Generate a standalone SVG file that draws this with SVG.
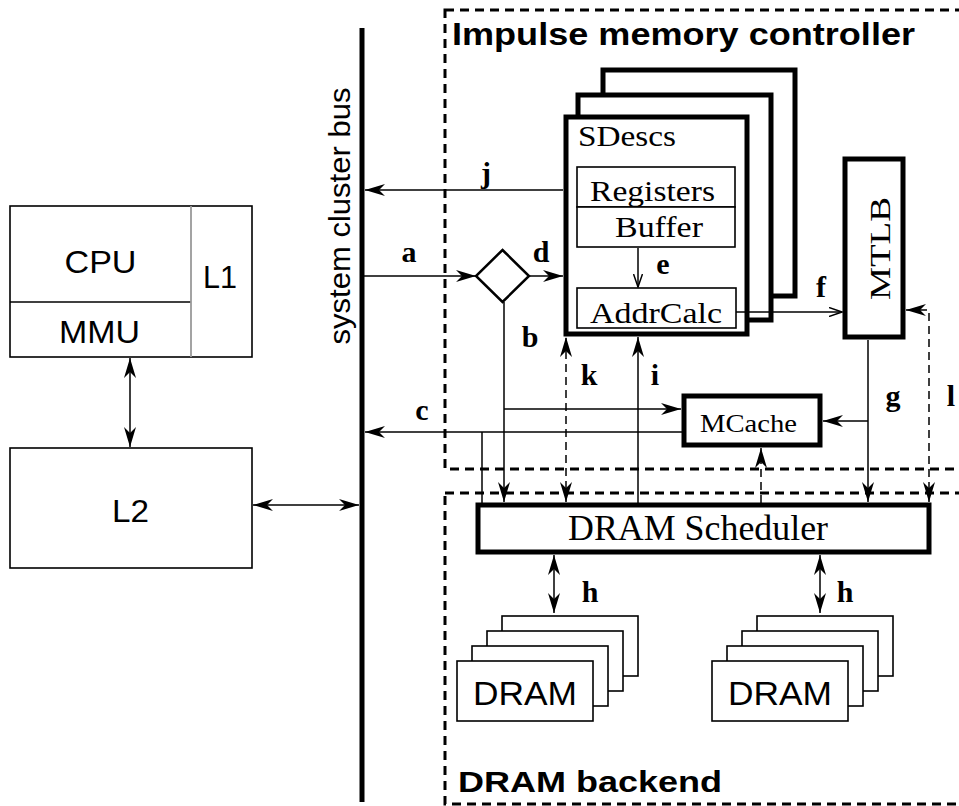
<svg xmlns="http://www.w3.org/2000/svg" width="959" height="806" viewBox="0 0 959 806">
<style>
.sans{font-family:"Liberation Sans",Arial,sans-serif;fill:#000}
.serif{font-family:"Liberation Serif","Times New Roman",serif;fill:#000}
.bs{font-family:"Liberation Sans",Arial,sans-serif;font-weight:bold;fill:#000}
.lbl{font-family:"Liberation Serif","Times New Roman",serif;font-weight:bold;font-size:30px;fill:#000;text-anchor:middle}
.thin{fill:#fff;stroke:#000;stroke-width:1.6}
.thick{fill:#fff;stroke:#000;stroke-width:5}
.ln{fill:none;stroke:#000;stroke-width:1.5}
.dl{fill:none;stroke:#000;stroke-width:1.5;stroke-dasharray:8 5}
.region{fill:none;stroke:#000;stroke-width:3;stroke-dasharray:9 6}
</style>
<defs>
<marker id="ah" viewBox="0 0 20 12" refX="20" refY="6" markerWidth="20" markerHeight="12" markerUnits="userSpaceOnUse" orient="auto-start-reverse">
<path d="M0,0 L20,6 L0,12 L6,6 z" fill="#000"/>
</marker>
<marker id="oa" viewBox="0 0 14 10" refX="13" refY="5" markerWidth="14" markerHeight="10" markerUnits="userSpaceOnUse" orient="auto">
<path d="M0,0.5 L13,5 L0,9.5" fill="none" stroke="#000" stroke-width="1.5"/>
</marker>
</defs>
<rect width="959" height="806" fill="#fff"/>

<g id="regions">
<rect class="region" x="445" y="10" width="520" height="459"/>
<rect class="region" x="445" y="493" width="520" height="311"/>
<text class="bs" x="452" y="45" font-size="32" textLength="463" lengthAdjust="spacingAndGlyphs">Impulse memory controller</text>
<text class="bs" x="458" y="792" font-size="30" textLength="264" lengthAdjust="spacingAndGlyphs">DRAM backend</text>
</g>

<g id="bus">
<line x1="362" y1="28" x2="362" y2="802" stroke="#000" stroke-width="5"/>
<text class="sans" transform="translate(350,216) rotate(-90)" text-anchor="middle" font-size="30" textLength="257" lengthAdjust="spacingAndGlyphs">system cluster bus</text>
</g>

<g id="cpu">
<rect class="thin" x="10" y="206" width="242" height="151"/>
<line x1="10" y1="302" x2="191" y2="302" stroke="#000" stroke-width="1.6"/>
<line x1="191" y1="206" x2="191" y2="357" stroke="#999" stroke-width="1.8"/>
<text class="sans" x="100.5" y="273" font-size="32" text-anchor="middle" textLength="72" lengthAdjust="spacingAndGlyphs">CPU</text>
<text class="sans" x="99.5" y="343" font-size="32" text-anchor="middle" textLength="81" lengthAdjust="spacingAndGlyphs">MMU</text>
<text class="sans" x="220" y="288" font-size="32" text-anchor="middle" textLength="34" lengthAdjust="spacingAndGlyphs">L1</text>
</g>

<g id="l2">
<rect class="thin" x="10" y="448" width="242" height="120"/>
<text class="sans" x="130.5" y="522" font-size="32" text-anchor="middle" textLength="37" lengthAdjust="spacingAndGlyphs">L2</text>
</g>

<g id="sdescs">
<rect class="thick" x="603" y="70" width="192" height="226"/>
<rect class="thick" x="578" y="95" width="193" height="225"/>
<rect class="thick" x="566" y="117" width="181" height="217"/>
<text class="serif" x="578" y="146" font-size="30" textLength="98" lengthAdjust="spacingAndGlyphs">SDescs</text>
<rect class="thin" x="577" y="167" width="158" height="40"/>
<rect class="thin" x="577" y="207" width="158" height="40"/>
<text class="serif" x="590" y="201" font-size="30" textLength="125" lengthAdjust="spacingAndGlyphs">Registers</text>
<text class="serif" x="615" y="237" font-size="30" textLength="88" lengthAdjust="spacingAndGlyphs">Buffer</text>
<rect class="thin" x="577" y="288" width="159" height="40"/>
<text class="serif" x="590" y="323" font-size="30" textLength="132" lengthAdjust="spacingAndGlyphs">AddrCalc</text>
</g>

<g id="switch">
<path d="M502.5,250 L529,276 L502.5,302 L476,276 Z" fill="#fff" stroke="#000" stroke-width="2.5"/>
</g>

<g id="mtlb">
<rect class="thick" x="845" y="159" width="58" height="178"/>
<text class="serif" transform="translate(890,248.5) rotate(-90)" text-anchor="middle" font-size="30" textLength="103" lengthAdjust="spacingAndGlyphs">MTLB</text>
</g>

<g id="mcache">
<rect class="thick" x="684" y="396" width="136" height="49" stroke-width="4.5"/>
<text class="serif" x="700" y="432" font-size="25" textLength="97" lengthAdjust="spacingAndGlyphs">MCache</text>
</g>

<g id="scheduler">
<rect class="thick" x="478" y="505" width="451" height="47"/>
<text class="serif" x="568" y="540" font-size="35" textLength="260" lengthAdjust="spacingAndGlyphs">DRAM Scheduler</text>
</g>

<g id="dram1">
<rect class="thin" x="502" y="616" width="136" height="60"/>
<rect class="thin" x="487" y="631" width="136" height="60"/>
<rect class="thin" x="472" y="646" width="136" height="60"/>
<rect class="thin" x="457" y="661" width="136" height="60"/>
<text class="sans" x="525" y="705" font-size="34" text-anchor="middle" textLength="104" lengthAdjust="spacingAndGlyphs">DRAM</text>
</g>

<g id="dram2">
<rect class="thin" x="757" y="616" width="136" height="60"/>
<rect class="thin" x="742" y="631" width="136" height="60"/>
<rect class="thin" x="727" y="646" width="136" height="60"/>
<rect class="thin" x="712" y="661" width="136" height="60"/>
<text class="sans" x="780" y="705" font-size="34" text-anchor="middle" textLength="104" lengthAdjust="spacingAndGlyphs">DRAM</text>
</g>

<g id="connectors">
<line class="ln" x1="130" y1="358" x2="130" y2="447" marker-start="url(#ah)" marker-end="url(#ah)"/>
<line class="ln" x1="253" y1="505" x2="359" y2="505" marker-start="url(#ah)" marker-end="url(#ah)"/>
<line class="ln" x1="563" y1="190" x2="365" y2="190" marker-end="url(#ah)"/>
<line class="ln" x1="364" y1="276" x2="476" y2="276" marker-end="url(#ah)"/>
<line class="ln" x1="529" y1="276" x2="563" y2="276" marker-end="url(#ah)"/>
<line class="ln" x1="504" y1="302" x2="504" y2="502" marker-end="url(#ah)"/>
<line class="ln" x1="504" y1="409" x2="681" y2="409" marker-end="url(#ah)"/>
<line class="ln" x1="682" y1="432" x2="365" y2="432" marker-end="url(#ah)"/>
<line class="ln" x1="482" y1="432" x2="482" y2="503"/>
<line class="dl" x1="566" y1="502" x2="566" y2="337" marker-start="url(#ah)" marker-end="url(#ah)"/>
<line class="ln" x1="638" y1="503" x2="638" y2="337" marker-end="url(#ah)"/>
<line class="dl" x1="761" y1="503" x2="761" y2="448" marker-end="url(#ah)"/>
<line class="ln" x1="868" y1="340" x2="868" y2="502" marker-end="url(#ah)"/>
<line class="ln" x1="868" y1="421" x2="823" y2="421" marker-end="url(#ah)"/>
<path class="dl" d="M906,310 L929,310 L929,502" marker-start="url(#ah)" marker-end="url(#ah)"/>
<line class="ln" x1="638" y1="248" x2="638" y2="287" marker-end="url(#oa)"/>
<line class="ln" x1="736" y1="312" x2="842" y2="312" marker-end="url(#oa)"/>
<line class="ln" x1="554" y1="555" x2="554" y2="613" marker-start="url(#ah)" marker-end="url(#ah)"/>
<line class="ln" x1="820" y1="555" x2="820" y2="613" marker-start="url(#ah)" marker-end="url(#ah)"/>
<text class="lbl" x="486" y="183">j</text>
<text class="lbl" x="409" y="262">a</text>
<text class="lbl" x="541" y="262">d</text>
<text class="lbl" x="530" y="347">b</text>
<text class="lbl" x="663" y="274">e</text>
<text class="lbl" x="821" y="297">f</text>
<text class="lbl" x="589" y="385">k</text>
<text class="lbl" x="655" y="385">i</text>
<text class="lbl" x="422" y="420">c</text>
<text class="lbl" x="893" y="406">g</text>
<text class="lbl" x="951" y="406">l</text>
<text class="lbl" x="590" y="602">h</text>
<text class="lbl" x="845" y="602">h</text>
</g>
</svg>
